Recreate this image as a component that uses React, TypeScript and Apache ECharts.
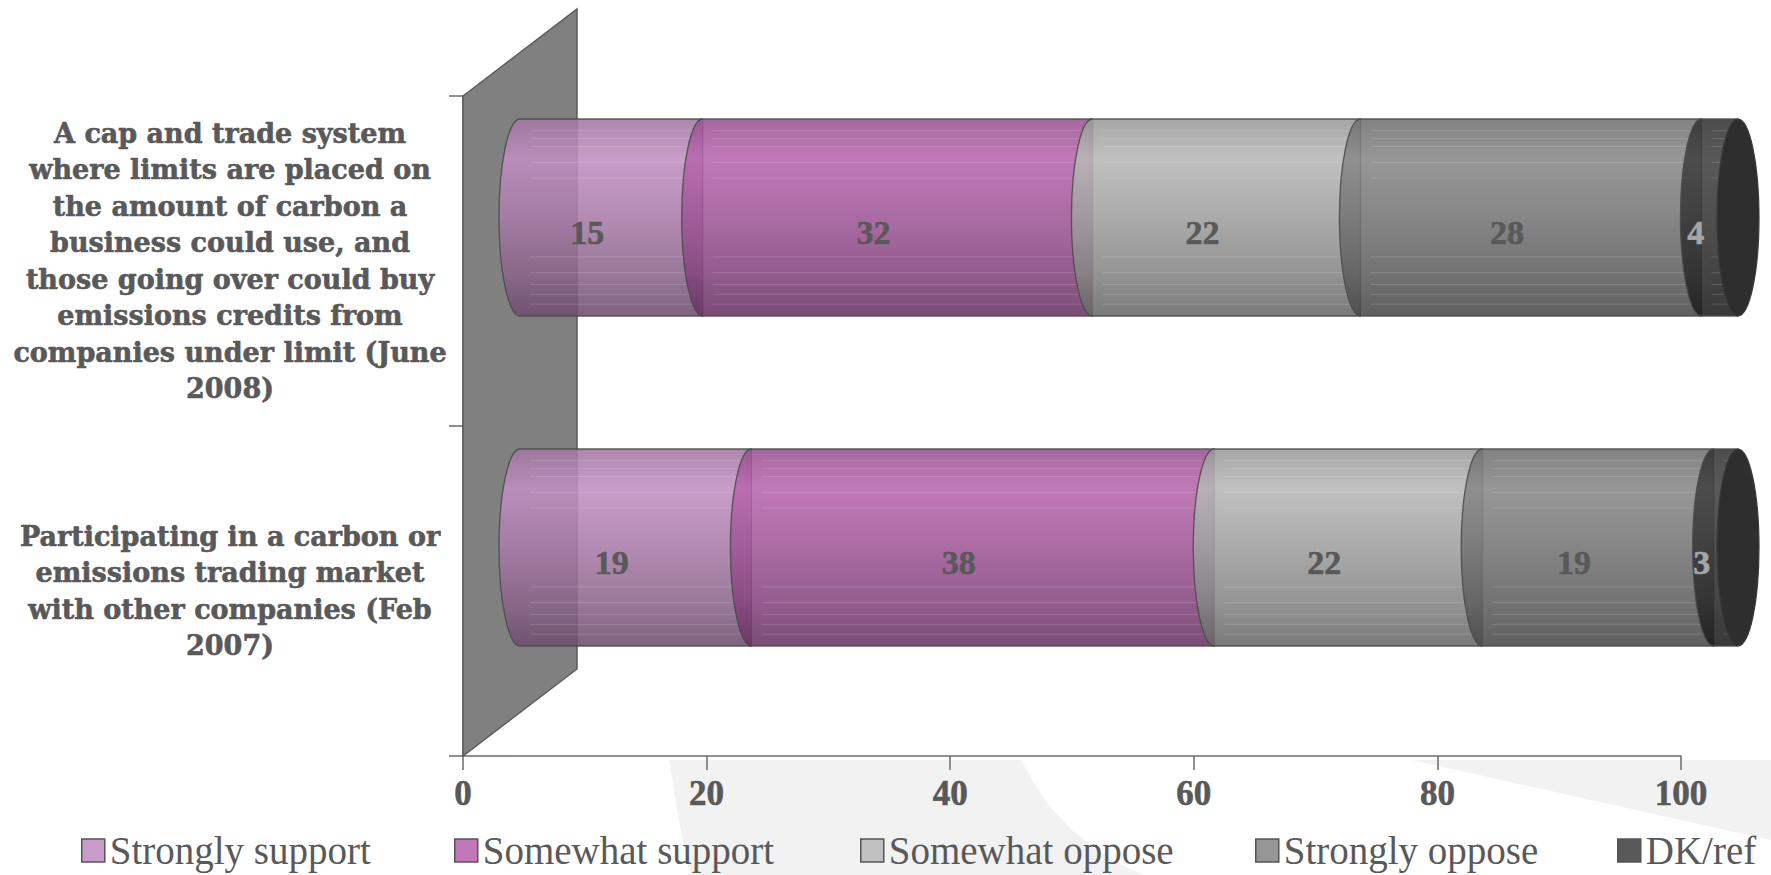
import React, { useEffect, useRef } from 'react';
import * as echarts from 'echarts';

// ---------- data ----------
const categories = [
  'A cap and trade system\nwhere limits are placed on\nthe amount of carbon a\nbusiness could use, and\nthose going over could buy\nemissions credits from\ncompanies under limit (June\n2008)',
  'Participating in a carbon or\nemissions trading market\nwith other companies (Feb\n2007)',
];
const seriesNames = ['Strongly support', 'Somewhat support', 'Somewhat oppose', 'Strongly oppose', 'DK/ref'];
const stronglySupport = [15, 19];
const somewhatSupport = [32, 38];
const somewhatOppose = [22, 22];
const stronglyOppose = [28, 19];
const dkRef = [4, 3];
const xMin = 0;
const xMax = 100;
const xInterval = 20;

// ---------- styles ----------
const seriesValues = [stronglySupport, somewhatSupport, somewhatOppose, stronglyOppose, dkRef];
const baseColors = ['#c89cc8', '#c078b8', '#c0c0c0', '#969696', '#595959'];
const labelColors = ['#595959', '#595959', '#595959', '#595959', '#a6a6a6'];
const legendLeft = [76, 449, 855, 1250, 1612];
const streaks = [0.06, 0.1, 0.14, 0.22, 0.3, 0.7, 0.78, 0.84, 0.89, 0.94];
const OPACITY = 0.88;
const DEPTH_X = 114;
const DEPTH_Y = 87;
const BAR_RATIO = 0.597;
const RX = 21;
const TEXT = '#595959';
const AXIS = '#6b6b6b';

function hexToRgb(h: string) {
  const n = parseInt(h.slice(1), 16);
  return [(n >> 16) & 255, (n >> 8) & 255, n & 255];
}
function shade(hex: string, f: number) {
  const c = hexToRgb(hex).map((v) => {
    const seen = v * f;
    const actual = (seen - (1 - OPACITY) * 255) / OPACITY;
    return Math.max(0, Math.min(255, Math.round(actual)));
  });
  return `rgb(${c.join(',')})`;
}
function gradient(hex: string) {
  return {
    type: 'linear', x: 0, y: 0, x2: 0, y2: 1,
    colorStops: [
      { offset: 0, color: shade(hex, 0.86) },
      { offset: 0.2, color: shade(hex, 1) },
      { offset: 0.5, color: shade(hex, 0.89) },
      { offset: 0.78, color: shade(hex, 0.77) },
      { offset: 1, color: shade(hex, 0.63) },
    ],
  };
}

const stacked = seriesValues.map((vals, si) =>
  vals.map((v, ci) => {
    const start = seriesValues.slice(0, si).reduce((a, arr) => a + arr[ci], 0);
    return [ci, start, start + v, v];
  })
);

function makeRender(si: number) {
  return (params: any, api: any) => {
    const ci = api.value(0);
    const s = Math.min(api.value(1), xMax);
    const e = Math.min(api.value(2), xMax);
    const v = api.value(3);
    const p0 = api.coord([s, ci]);
    const p1 = api.coord([e, ci]);
    const band = api.size([0, 1])[1];
    const ry = (band * BAR_RATIO) / 2;
    const cy = p0[1] - DEPTH_Y / 2;
    const x0 = p0[0] + DEPTH_X / 2;
    const x1 = p1[0] + DEPTH_X / 2;
    const children: any[] = [];
    children.push({
      type: 'path',
      shape: {
        pathData: `M${x0} ${cy - ry}A${RX} ${ry} 0 0 0 ${x0} ${cy + ry}L${x1} ${cy + ry}L${x1} ${cy - ry}Z`,
      },
      style: { fill: gradient(baseColors[si]), stroke: '#4a4a4a', lineWidth: 1.3, opacity: OPACITY },
    });
    streaks.forEach((t) => {
      const yy = cy - ry + 2 * ry * t;
      children.push({
        type: 'line',
        silent: true,
        shape: { x1: x0 + 10, y1: yy, x2: x1 - 4, y2: yy },
        style: { stroke: 'rgba(255,255,255,0.16)', lineWidth: 1 },
      });
    });
    if (si === seriesValues.length - 1) {
      children.push({
        type: 'path',
        shape: {
          pathData: `M${x1} ${cy - ry}A${RX} ${ry} 0 0 1 ${x1} ${cy + ry}A${RX} ${ry} 0 0 1 ${x1} ${cy - ry}Z`,
        },
        style: { fill: '#2e2e2e', stroke: '#3a3a3a', lineWidth: 1.2 },
      });
    }
    const pm = api.coord([(s + e) / 2, ci]);
    children.push({
      type: 'text',
      x: pm[0] + 33,
      y: pm[1] - 28.5,
      z2: 10,
      style: {
        text: String(v),
        fill: labelColors[si],
        fontSize: 34,
        fontWeight: 'bold',
        fontFamily: '"Liberation Serif"',
        align: 'center',
        verticalAlign: 'middle',
        stroke: labelColors[si],
        lineWidth: 0.6,
      },
    });
    return { type: 'group', children };
  };
}

function wallRender(params: any, api: any) {
  const band = api.size([0, 1])[1];
  const top = api.coord([xMin, 0]);
  const bot = api.coord([xMin, categories.length - 1]);
  const x = top[0];
  const y0 = top[1] - band / 2;
  const y1 = bot[1] + band / 2;
  return {
    type: 'polygon',
    shape: { points: [[x, y0], [x + DEPTH_X, y0 - DEPTH_Y], [x + DEPTH_X, y1 - DEPTH_Y], [x, y1]] },
    style: { fill: '#808080', stroke: '#5a5a5a', lineWidth: 1.5 },
  };
}

export default function App() {
  const ref = useRef<HTMLDivElement>(null);
  useEffect(() => {
    document.body.style.margin = '0';
    const chart = echarts.init(ref.current!, null, { renderer: 'svg' });
    const option: any = {
      animation: false,
      backgroundColor: '#ffffff',
      graphic: [
        {
          type: 'polygon',
          z: -5,
          silent: true,
          shape: {
            points: [[669, 760], [1021, 760], [1035, 785], [1050, 807], [1072, 830], [1097, 850], [1120, 864], [1143, 875], [690, 875], [678, 815]],
          },
          style: { fill: '#f2f2f2' },
        },
        {
          type: 'polygon',
          z: -5,
          silent: true,
          shape: { points: [[1412, 760], [1771, 760], [1771, 840]] },
          style: { fill: '#f2f2f2' },
        },
      ],
      legend: seriesNames.map((n, i) => ({
        data: [n],
        left: legendLeft[i],
        top: 826,
        icon: 'rect',
        itemWidth: 23,
        itemHeight: 23,
        selectedMode: false,
        itemStyle: { borderColor: '#555555', borderWidth: 1.5 },
        textStyle: { fontFamily: '"Liberation Serif"', fontSize: 39, lineHeight: 39, color: TEXT, padding: [0, 0, 0, 0] },
      })),
      grid: { left: 463, right: 90, top: 96, bottom: 119, containLabel: false },
      xAxis: {
        type: 'value',
        min: xMin,
        max: xMax,
        interval: xInterval,
        splitLine: { show: false },
        axisLine: { show: true, lineStyle: { color: AXIS, width: 1.5 } },
        axisTick: { show: true, length: 14, lineStyle: { color: AXIS, width: 1.5 } },
        axisLabel: {
          margin: 20, color: TEXT, fontFamily: '"Liberation Serif"', fontWeight: 'bold', fontSize: 35,
          textBorderColor: TEXT, textBorderWidth: 0.6,
        },
      },
      yAxis: {
        type: 'category',
        data: categories,
        inverse: true,
        axisLine: { show: true, lineStyle: { color: AXIS, width: 1.5 } },
        axisTick: { show: true, length: 14, lineStyle: { color: AXIS, width: 1.5 } },
        axisLabel: {
          interval: 0,
          margin: 233,
          align: 'center',
          color: TEXT,
          fontFamily: '"DejaVu Serif"',
          fontWeight: 'bold',
          fontSize: 27,
          lineHeight: 36.5,
          textBorderColor: TEXT,
          textBorderWidth: 0.6,
        },
      },
      series: [
        {
          type: 'custom',
          name: 'wall',
          silent: true,
          clip: false,
          data: [[0, 0]],
          encode: { x: 0, y: 1 },
          renderItem: wallRender,
        },
        ...seriesNames.map((n, si) => ({
          type: 'custom',
          name: n,
          clip: false,
          itemStyle: { color: baseColors[si] },
          data: stacked[si],
          encode: { x: [1, 2], y: 0 },
          renderItem: makeRender(si),
        })),
      ],
    };
    chart.setOption(option);
    return () => chart.dispose();
  }, []);
  return <div ref={ref} style={{ width: 1771, height: 875 }} />;
}
